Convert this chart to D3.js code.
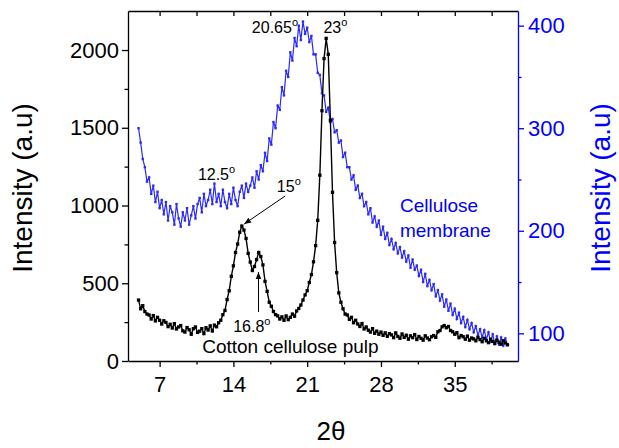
<!DOCTYPE html>
<html>
<head>
<meta charset="utf-8">
<script src="https://cdn.jsdelivr.net/npm/d3@7"></script>
<style>
  body { margin: 0; background: #fff; }
  text { font-family: "Liberation Sans", Arial, sans-serif; }
</style>
</head>
<body>
<svg id="chart" width="619" height="448"></svg>
<script>
// 2 theta positions (degrees)
const twoTheta = [
    5.0, 5.2, 5.4, 5.6, 5.8, 6.0, 6.2, 6.4, 6.6, 6.8,
    7.0, 7.2, 7.4, 7.6, 7.8, 8.0, 8.2, 8.4, 8.6, 8.8,
    9.0, 9.2, 9.4, 9.6, 9.8, 10.0, 10.2, 10.4, 10.6, 10.8,
    11.0, 11.2, 11.4, 11.6, 11.8, 12.0, 12.2, 12.4, 12.6, 12.8,
    13.0, 13.2, 13.4, 13.6, 13.8, 14.0, 14.2, 14.4, 14.6, 14.8,
    15.0, 15.2, 15.4, 15.6, 15.8, 16.0, 16.2, 16.4, 16.6, 16.8,
    17.0, 17.2, 17.4, 17.6, 17.8, 18.0, 18.2, 18.4, 18.6, 18.8,
    19.0, 19.2, 19.4, 19.6, 19.8, 20.0, 20.2, 20.4, 20.6, 20.8,
    21.0, 21.2, 21.4, 21.6, 21.8, 22.0, 22.2, 22.4, 22.6, 22.8,
    23.0, 23.2, 23.4, 23.6, 23.8, 24.0, 24.2, 24.4, 24.6, 24.8,
    25.0, 25.2, 25.4, 25.6, 25.8, 26.0, 26.2, 26.4, 26.6, 26.8,
    27.0, 27.2, 27.4, 27.6, 27.8, 28.0, 28.2, 28.4, 28.6, 28.8,
    29.0, 29.2, 29.4, 29.6, 29.8, 30.0, 30.2, 30.4, 30.6, 30.8,
    31.0, 31.2, 31.4, 31.6, 31.8, 32.0, 32.2, 32.4, 32.6, 32.8,
    33.0, 33.2, 33.4, 33.6, 33.8, 34.0, 34.2, 34.4, 34.6, 34.8,
    35.0, 35.2, 35.4, 35.6, 35.8, 36.0, 36.2, 36.4, 36.6, 36.8,
    37.0, 37.2, 37.4, 37.6, 37.8, 38.0, 38.2, 38.4, 38.6, 38.8,
    39.0, 39.2, 39.4, 39.6, 39.8, 40.0
];

// Cotton cellulose pulp intensity (left axis)
const cottonPulp = [
    392, 336, 356, 318, 302, 296, 270, 292, 258, 281,
    262, 238, 259, 248, 221, 236, 212, 240, 206, 219,
    228, 194, 186, 215, 201, 172, 208, 219, 184, 192,
    208, 176, 214, 199, 226, 193, 231, 220, 246, 262,
    298, 325, 395, 452, 545, 612, 698, 752, 828, 868,
    842, 788, 692, 636, 582, 608, 652, 698, 672, 618,
    512, 448, 378, 352, 318, 298, 290, 270, 284, 262,
    290, 266, 281, 302, 288, 322, 338, 360, 392, 425,
    452, 505, 556, 638, 742, 905, 1195, 1610, 1945, 2075,
    1972, 1548, 1085, 762, 568, 438, 378, 336, 302, 296,
    268, 281, 246, 262, 238, 222, 241, 206, 219, 198,
    186, 208, 178, 192, 172, 186, 165, 181, 159, 176,
    168, 150, 181, 158, 146, 174, 152, 166, 140, 162,
    150, 170, 138, 158, 146, 134, 162, 148, 137, 156,
    164, 152, 188, 196, 220, 228, 214, 222, 196, 188,
    172, 182, 150, 164, 156, 140, 160, 134, 148, 142,
    130, 152, 138, 124, 146, 130, 118, 140, 126, 112,
    134, 120, 108, 130, 116, 104
];

// Cellulose membrane intensity (right axis)
const celluloseMembrane = [
    300, 286, 270, 262, 248, 252, 236, 244, 228, 238,
    222, 230, 216, 228, 210, 224, 218, 206, 226, 212,
    204, 218, 210, 222, 206, 215, 224, 212, 226, 232,
    218, 236, 224, 230, 240, 226, 246, 228, 236, 224,
    240, 228, 222, 236, 226, 242, 230, 224, 238, 244,
    232, 246, 238, 244, 252, 242, 258, 250, 264, 258,
    276, 268, 290, 284, 306, 300, 322, 318, 340, 332,
    356, 350, 374, 366, 388, 380, 400, 386, 404, 392,
    398, 384, 390, 372, 372, 354, 352, 334, 332, 316,
    320, 306, 309, 296, 298, 286, 288, 272, 276, 262,
    262, 250, 254, 240, 244, 232, 236, 224, 228, 216,
    222, 208, 214, 204, 210, 196, 204, 192, 198, 186,
    192, 182, 188, 178, 184, 174, 180, 170, 176, 164,
    172, 162, 166, 156, 162, 150, 158, 146, 152, 142,
    148, 136, 142, 132, 138, 126, 133, 122, 129, 118,
    124, 114, 120, 110, 116, 106, 113, 104, 110, 101,
    107, 98, 104, 96, 103, 94, 101, 92, 99, 90,
    97, 89, 96, 88, 95, 89
];

// tick values
const xTicks = [7, 14, 21, 28, 35];
const xMinorTicks = [10.5, 17.5, 24.5, 31.5, 38.5];
const leftTicks = [0, 500, 1000, 1500, 2000];
const leftMinorTicks = [250, 750, 1250, 1750];
const rightTicks = [100, 200, 300, 400];
const rightMinorTicks = [150, 250, 350];

const BLUE = "#0000ff";

const width = 619;
const height = 448;
const margin = { top: 11, right: 101, bottom: 87, left: 128 };

const svg = d3.select("#chart");

const x = d3.scaleLinear().domain([4, 41]).range([margin.left, width - margin.right]);
const yLeft = d3.scaleLinear().domain([0, 2251]).range([height - margin.bottom, margin.top]);
const yRight = d3.scaleLinear().domain([73, 414.3]).range([height - margin.bottom, margin.top]);

// arrow marker for annotations
svg.append("defs").append("marker")
    .attr("id", "arrow")
    .attr("viewBox", "0 0 10 10")
    .attr("refX", 10)
    .attr("refY", 5)
    .attr("markerWidth", 7)
    .attr("markerHeight", 7)
    .attr("markerUnits", "userSpaceOnUse")
    .attr("orient", "auto")
    .append("path")
    .attr("d", "M0,1 L10,5 L0,9 z")
    .attr("fill", "#000");

// ---- series ----
function drawSeries(values, yScale, color, dotSize, lineWidth) {
    const pts = twoTheta.map((t, i) => [t, values[i]]);
    const line = d3.line().x(d => x(d[0])).y(d => yScale(d[1]));

    svg.append("path")
        .datum(pts)
        .attr("d", line)
        .attr("fill", "none")
        .attr("stroke", color)
        .attr("stroke-width", lineWidth);

    svg.append("g")
        .selectAll("rect")
        .data(pts)
        .enter().append("rect")
        .attr("x", d => x(d[0]) - dotSize / 2)
        .attr("y", d => yScale(d[1]) - dotSize / 2)
        .attr("width", dotSize)
        .attr("height", dotSize)
        .attr("fill", color);
}

drawSeries(celluloseMembrane, yRight, "#2a2aff", 2.4, 1.2);
drawSeries(cottonPulp, yLeft, "#000", 3.3, 1.4);

// ---- axes ----
function styleAxis(g, color, fontSize) {
    g.select(".domain").attr("stroke", color).attr("stroke-width", 1.3);
    g.selectAll(".tick line").attr("stroke", color).attr("stroke-width", 1.3);
    g.selectAll(".tick text")
        .attr("fill", color)
        .style("font-size", fontSize + "px")
        .style("font-family", "'Liberation Sans', Arial, sans-serif");
}

const fmt = d3.format("d");

// bottom
const gx = svg.append("g")
    .attr("transform", `translate(0,${height - margin.bottom})`)
    .call(d3.axisBottom(x).tickValues(xTicks).tickFormat(fmt).tickSize(6).tickSizeOuter(0).tickPadding(9));
styleAxis(gx, "#000", 22);
svg.append("g")
    .attr("transform", `translate(0,${height - margin.bottom})`)
    .call(d3.axisBottom(x).tickValues(xMinorTicks).tickSize(3.5).tickFormat(""))
    .call(g => g.select(".domain").remove())
    .call(g => styleAxis(g, "#000", 22));

// top (ticks inside, no labels)
const gTop = svg.append("g")
    .attr("transform", `translate(0,${margin.top})`)
    .call(d3.axisBottom(x).tickValues(xTicks.concat(xMinorTicks)).tickSize(5).tickSizeOuter(0).tickFormat(""));
styleAxis(gTop, "#000", 22);

// left
const gy = svg.append("g")
    .attr("transform", `translate(${margin.left},0)`)
    .call(d3.axisLeft(yLeft).tickValues(leftTicks).tickFormat(fmt).tickSize(6).tickSizeOuter(0).tickPadding(3));
styleAxis(gy, "#000", 22);
svg.append("g")
    .attr("transform", `translate(${margin.left},0)`)
    .call(d3.axisLeft(yLeft).tickValues(leftMinorTicks).tickSize(3.5).tickFormat(""))
    .call(g => g.select(".domain").remove())
    .call(g => styleAxis(g, "#000", 22));

// right (blue)
const gyr = svg.append("g")
    .attr("transform", `translate(${width - margin.right},0)`)
    .call(d3.axisRight(yRight).tickValues(rightTicks).tickFormat(fmt).tickSize(6).tickSizeOuter(0).tickPadding(4));
styleAxis(gyr, BLUE, 22);
svg.append("g")
    .attr("transform", `translate(${width - margin.right},0)`)
    .call(d3.axisRight(yRight).tickValues(rightMinorTicks).tickSize(3.5).tickFormat(""))
    .call(g => g.select(".domain").remove())
    .call(g => styleAxis(g, BLUE, 22));

// axis titles
svg.append("text")
    .attr("transform", "translate(32,188) rotate(-90)")
    .attr("text-anchor", "middle")
    .style("font-size", "28px")
    .text("Intensity (a.u)");

svg.append("text")
    .attr("transform", "translate(610,188) rotate(-90)")
    .attr("text-anchor", "middle")
    .attr("fill", BLUE)
    .style("font-size", "28px")
    .text("Intensity (a.u)");

svg.append("text")
    .attr("x", 331)
    .attr("y", 440)
    .attr("text-anchor", "middle")
    .style("font-size", "26px")
    .text("2θ");

// ---- annotations (placed in data units) ----
function degLabel(text, tx, ty, yScale) {
    const t = svg.append("text")
        .attr("x", x(tx))
        .attr("y", yScale(ty))
        .style("font-size", "16px")
        .text(text);
    t.append("tspan")
        .attr("dy", -7)
        .style("font-size", "11px")
        .text("o");
}

degLabel("20.65", 15.75, 2107, yLeft);
degLabel("23", 22.54, 2107, yLeft);
degLabel("12.5", 10.63, 1164, yLeft);
degLabel("15", 18.12, 1089, yLeft);
degLabel("16.8", 13.98, 188, yLeft);

// arrows to the 15 and 16.8 peaks
svg.append("line")
    .attr("x1", x(18.91)).attr("y1", yLeft(1061))
    .attr("x2", x(15.02)).attr("y2", yLeft(881))
    .attr("stroke", "#000").attr("stroke-width", 1)
    .attr("marker-end", "url(#arrow)");

svg.append("line")
    .attr("x1", x(16.38)).attr("y1", yLeft(315))
    .attr("x2", x(16.38)).attr("y2", yLeft(572))
    .attr("stroke", "#000").attr("stroke-width", 1)
    .attr("marker-end", "url(#arrow)");

svg.append("text")
    .attr("x", x(11.04))
    .attr("y", yLeft(51))
    .style("font-size", "19px")
    .text("Cotton cellulose pulp");

const memb = svg.append("text")
    .attr("fill", BLUE)
    .style("font-size", "19px");
memb.append("tspan").attr("x", x(29.8)).attr("y", yLeft(958)).text("Cellulose");
memb.append("tspan").attr("x", x(29.8)).attr("y", yLeft(797)).text("membrane");
</script>
</body>
</html>
